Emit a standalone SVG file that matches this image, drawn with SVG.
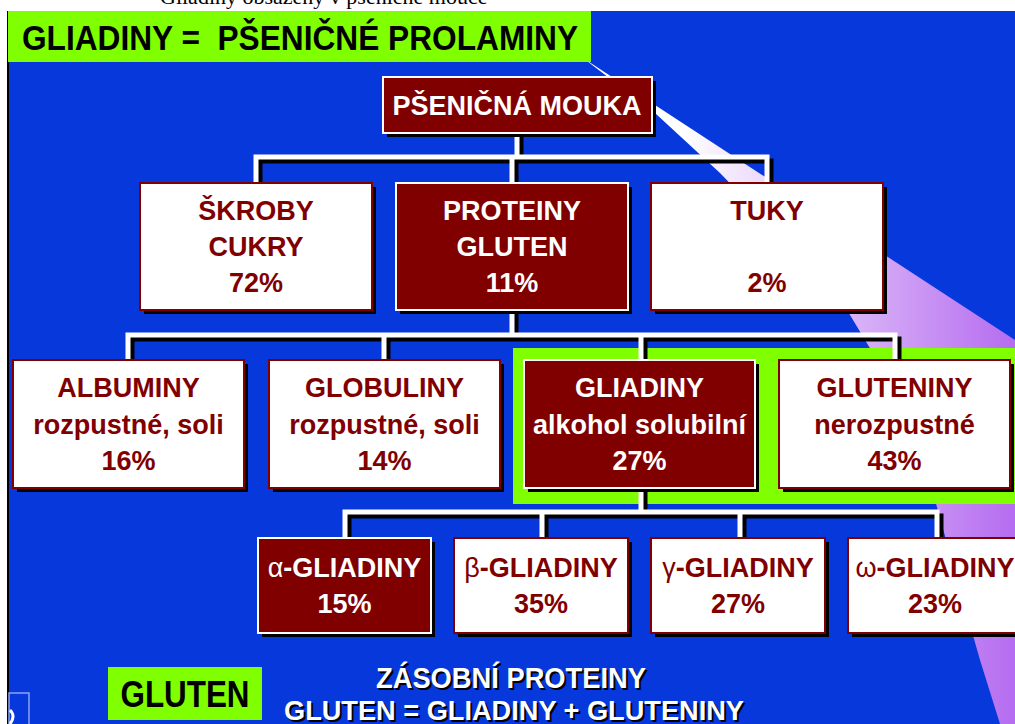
<svg xmlns="http://www.w3.org/2000/svg" width="1015" height="724" viewBox="0 0 1015 724">
<defs>
<linearGradient id="sw" gradientUnits="userSpaceOnUse" x1="680" y1="0" x2="1015" y2="0">
<stop offset="0" stop-color="#ffffff"/><stop offset="1" stop-color="#b56cf0"/>
</linearGradient>
<style>
.t{font-family:"Liberation Sans",Arial,sans-serif;font-weight:bold;font-size:27px;text-anchor:middle}
.w{fill:#fff}
.m{fill:#800000}
.bw{fill:#fff;stroke:#800000;stroke-width:2}
.bm{fill:#800000;stroke:#fff;stroke-width:2}
.sh{fill:#000}
.cw{fill:none;stroke:#fff;stroke-width:5}
.cs{fill:none;stroke:#000;stroke-width:5}
.g{font-weight:normal}
.bt{font-family:"Liberation Sans",Arial,sans-serif;font-weight:bold;text-anchor:middle}
</style>
</defs>
<rect x="0" y="0" width="1015" height="724" fill="#fff"/>
<text x="160" y="4" font-family="Liberation Serif,serif" font-size="22" fill="#000">Gliadiny obsaženy v pšeničné mouce</text>
<rect x="9" y="11" width="1006" height="713" fill="#0638dc"/>
<line x1="8" y1="11" x2="8" y2="724" stroke="#000" stroke-width="2"/>
<path d="M583,58 L1015,340 L1015,724 L1000,724 L980,660 L960,590 L935,500 L895,390 L847,310 L790,245 L720,173 L655,113 Z" fill="url(#sw)"/>
<g id="title">
<rect x="8" y="11" width="583" height="51" fill="#80ff00"/>
<text x="22" y="50" font-family="Liberation Sans,Arial,sans-serif" font-weight="bold" font-size="35" textLength="556" lengthAdjust="spacingAndGlyphs" fill="#000">GLIADINY =&#160; PŠENIČNÉ PROLAMINY</text>
</g>
<rect id="highlight" x="513" y="348" width="502" height="156" fill="#80ff00"/>
<g id="connectors">
<path class="cs" transform="translate(4,4)" d="M256,183V157H767V183M517,133V157M512,157V183M128,360V335H895V360M512,310V335M384,360V335M641,335V360M345,538V512H937V538M641,488V512M542,512V538M740,512V538"/>
<path class="cw" d="M256,183V157H767V183M517,133V157M512,157V183M128,360V335H895V360M512,310V335M384,360V335M641,335V360M345,538V512H937V538M641,488V512M542,512V538M740,512V538"/>
</g>
<g id="mouka">
<rect class="sh" x="387" y="81" width="269" height="56"/>
<rect class="bm" x="383" y="77" width="269" height="56"/>
<text class="t w" x="517" y="115">PŠENIČNÁ MOUKA</text>
</g>
<g id="skroby">
<rect class="sh" x="144" y="187" width="232" height="127"/>
<rect class="bw" x="140" y="183" width="232" height="127"/>
<text class="t m" x="256" y="220">ŠKROBY</text>
<text class="t m" x="256" y="256">CUKRY</text>
<text class="t m" x="256" y="292">72%</text>
</g>
<g id="proteiny">
<rect class="sh" x="400" y="187" width="232" height="127"/>
<rect class="bm" x="396" y="183" width="232" height="127"/>
<text class="t w" x="512" y="220">PROTEINY</text>
<text class="t w" x="512" y="256">GLUTEN</text>
<text class="t w" x="512" y="292">11%</text>
</g>
<g id="tuky">
<rect class="sh" x="655" y="187" width="232" height="127"/>
<rect class="bw" x="651" y="183" width="232" height="127"/>
<text class="t m" x="767" y="220">TUKY</text>
<text class="t m" x="767" y="292">2%</text>
</g>
<g id="albuminy">
<rect class="sh" x="17" y="364" width="231" height="128"/>
<rect class="bw" x="13" y="360" width="231" height="128"/>
<text class="t m" x="128.5" y="397">ALBUMINY</text>
<text class="t m" x="128.5" y="434">rozpustné, soli</text>
<text class="t m" x="128.5" y="470">16%</text>
</g>
<g id="globuliny">
<rect class="sh" x="273" y="364" width="231" height="128"/>
<rect class="bw" x="269" y="360" width="231" height="128"/>
<text class="t m" x="384.5" y="397">GLOBULINY</text>
<text class="t m" x="384.5" y="434">rozpustné, soli</text>
<text class="t m" x="384.5" y="470">14%</text>
</g>
<g id="gliadiny">
<rect class="sh" x="528" y="364" width="231" height="128"/>
<rect class="bm" x="524" y="360" width="231" height="128"/>
<text class="t w" x="639.5" y="397">GLIADINY</text>
<text class="t w" x="639.5" y="434">alkohol solubilní</text>
<text class="t w" x="639.5" y="470">27%</text>
</g>
<g id="gluteniny">
<rect class="sh" x="783" y="364" width="231" height="128"/>
<rect class="bw" x="779" y="360" width="231" height="128"/>
<text class="t m" x="894.5" y="397">GLUTENINY</text>
<text class="t m" x="894.5" y="434">nerozpustné</text>
<text class="t m" x="894.5" y="470">43%</text>
</g>
<g id="alpha">
<rect class="sh" x="262" y="542" width="173" height="95"/>
<rect class="bm" x="258" y="538" width="173" height="95"/>
<text class="t w" x="344.5" y="577"><tspan class="g">α</tspan>-GLIADINY</text>
<text class="t w" x="344.5" y="613">15%</text>
</g>
<g id="beta">
<rect class="sh" x="458" y="542" width="174" height="95"/>
<rect class="bw" x="454" y="538" width="174" height="95"/>
<text class="t m" x="541" y="577"><tspan class="g">β</tspan>-GLIADINY</text>
<text class="t m" x="541" y="613">35%</text>
</g>
<g id="gamma">
<rect class="sh" x="655" y="542" width="174" height="95"/>
<rect class="bw" x="651" y="538" width="174" height="95"/>
<text class="t m" x="738" y="577"><tspan class="g">γ</tspan>-GLIADINY</text>
<text class="t m" x="738" y="613">27%</text>
</g>
<g id="omega">
<rect class="sh" x="852" y="542" width="174" height="95"/>
<rect class="bw" x="848" y="538" width="174" height="95"/>
<text class="t m" x="935" y="577"><tspan class="g">ω</tspan>-GLIADINY</text>
<text class="t m" x="935" y="613">23%</text>
</g>
<g id="gluten">
<rect x="108" y="667" width="154" height="53" fill="#80ff00"/>
<text class="bt" x="185" y="707" font-size="37" textLength="129" lengthAdjust="spacingAndGlyphs" fill="#000">GLUTEN</text>
</g>
<g id="footer">
<text class="bt" x="513" y="690" font-size="29" textLength="270" lengthAdjust="spacingAndGlyphs" fill="#000">ZÁSOBNÍ PROTEINY</text>
<text class="bt" x="511" y="688" font-size="29" textLength="270" lengthAdjust="spacingAndGlyphs" fill="#fff">ZÁSOBNÍ PROTEINY</text>
<text class="bt" x="516" y="722" font-size="28" textLength="460" lengthAdjust="spacingAndGlyphs" fill="#000">GLUTEN = GLIADINY + GLUTENINY</text>
<text class="bt" x="514" y="720" font-size="28" textLength="460" lengthAdjust="spacingAndGlyphs" fill="#fff">GLUTEN = GLIADINY + GLUTENINY</text>
</g>
<rect x="9" y="693" width="20" height="40" fill="none" stroke="#8fa2f2" stroke-width="1.5"/>
<path d="M10,710 Q16,716 10,724" fill="none" stroke="#fff" stroke-width="3"/>
</svg>
